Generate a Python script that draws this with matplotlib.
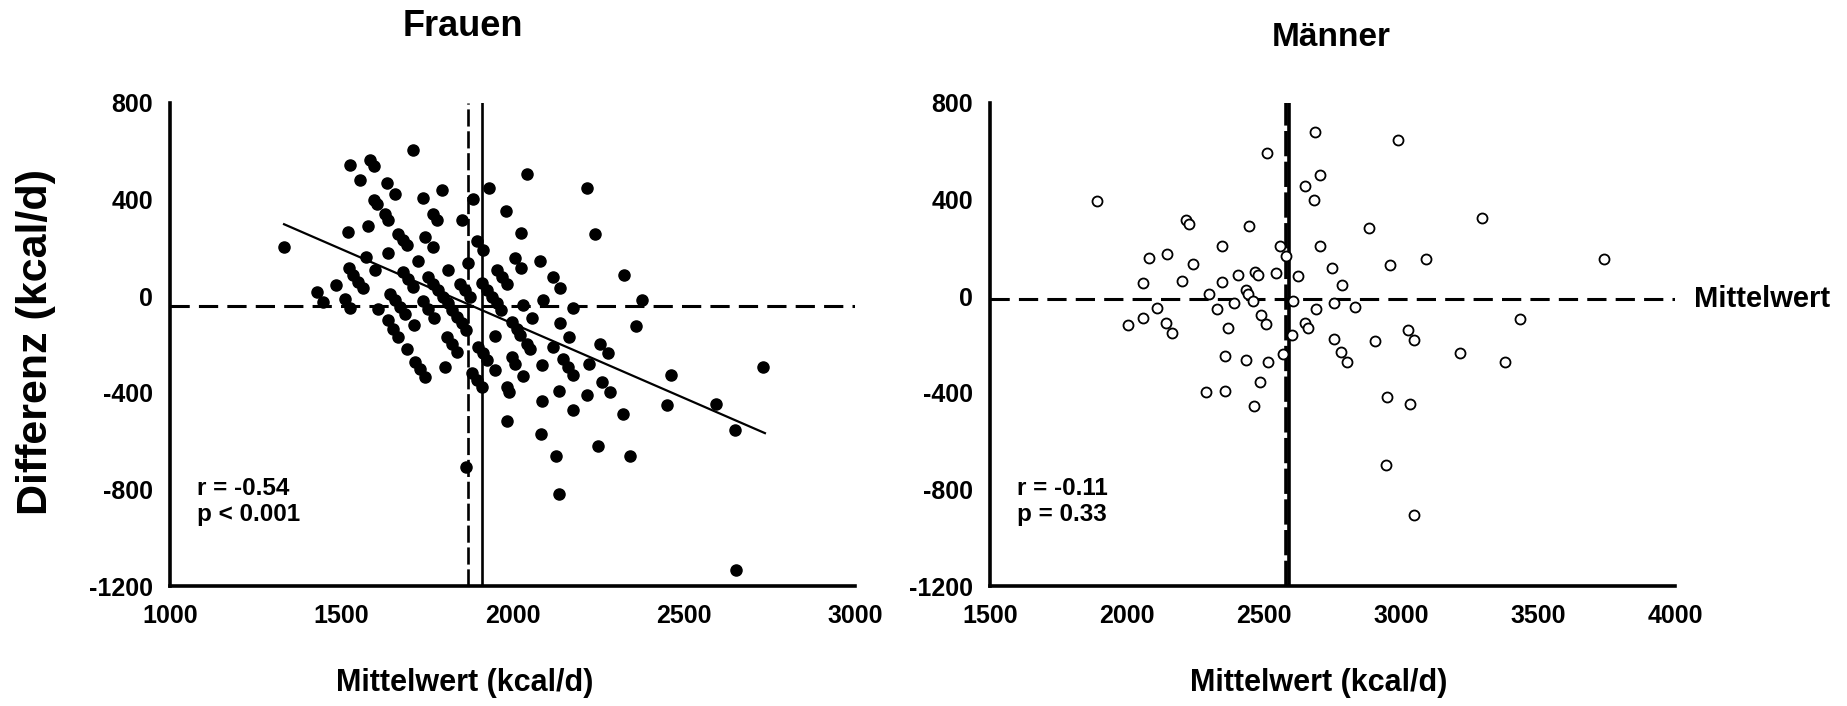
import matplotlib
matplotlib.use("Agg")
import matplotlib.pyplot as plt

plt.rcParams['font.family'] = ['Liberation Sans', 'DejaVu Sans']
plt.rcParams['font.weight'] = 'bold'

# ---------------- data ----------------
frauen_title = "Frauen"
maenner_title = "Männer"
x_label = "Mittelwert (kcal/d)"
y_label = "Differenz (kcal/d)"
mean_label = "Mittelwert"

frauen_x = [1710, 1526, 1584, 1596, 1555, 1635, 1657, 1738, 1793, 1884, 1932, 2043, 2217, 1597, 1603,
            1628, 1637, 1769, 1779, 1854, 1980, 1520, 1579, 1667, 1681, 1691, 1745, 1769, 1895, 1915,
            2024, 2242, 1333, 1572, 1636, 1723, 1871, 2007, 2024, 2080, 1599, 1523, 1535, 1550, 1564,
            1681, 1696, 1710, 1754, 1769, 1783, 1798, 1811, 1813, 1847, 1861, 1876, 1954, 1968, 1983,
            1910, 1925, 1939, 1954, 1965, 2119, 2139, 1485, 1428, 1448, 1511, 1527, 1608, 2030, 2090,
            2178, 2056, 1642, 1657, 1672, 1686, 1738, 1754, 1771, 1713, 1822, 1837, 1852, 1864, 1637,
            1652, 1667, 1691, 1808, 1822, 1949, 1998, 2012, 2022, 2041, 2051, 2139, 2166, 2119, 2255,
            2280, 1900, 1915, 1998,
            1715, 1730, 1745, 1803, 1837, 1881, 1895, 1910, 1925, 1864, 1949, 1983, 1991, 2007, 2032,
            1983, 2085, 2085, 2082, 2127, 2137, 2137, 2146, 2163, 2178, 2176, 2217, 2224, 2251, 2260,
            2285,
            2326, 2379, 2360, 2732, 2462, 2450, 2594, 2650, 2324, 2343, 2652]
frauen_d = [605, 542, 563, 538, 480, 467, 422, 407, 439, 402, 446, 508, 450, 398, 381,
            340, 315, 342, 317, 315, 352, 266, 290, 259, 232, 211, 246, 202, 229, 193,
            262, 259, 204, 163, 177, 145, 138, 159, 115, 146, 108, 115, 87, 59, 32,
            101, 73, 39, 80, 52, 25, -3, -30, 108, 52, 25, -3, 108, 80, 52,
            55, 25, -3, -30, -58, 80, 36, 46, 18, -23, -10, -47, -54, -37, -14,
            -47, -90, 11, -17, -44, -75, -19, -51, -92, -120, -58, -86, -113, -138, -99,
            -134, -168, -217, -168, -196, -164, -106, -134, -161, -196, -217, -109, -168, -210, -196,
            -237, -210, -237, -251,
            -272, -300, -334, -295, -231, -320, -348, -375, -265, -709, -306, -375, -396, -279, -331,
            -516, -286, -433, -571, -663, -821, -393, -258, -293, -327, -472, -410, -279, -621, -355,
            -396,
            87, -17, -124, -293, -327, -449, -447, -555, -486, -663, -1135]

maenner_x = [1891, 2510, 2685, 2988, 2703, 2650, 2681, 2217, 2228, 2446, 2883, 2345, 2560, 2706, 2580,
             2081, 2146, 2240, 3092, 2960, 2749, 2406, 2468, 2478, 2544, 2623, 2059, 2200, 2347, 2785,
             2300, 2434, 2440, 2459, 2391, 2605, 2111, 2330, 2691, 2754, 2831, 2059, 2004, 2143, 2164,
             2370, 2489, 2507, 2650, 2660, 2601, 2754, 2904, 3026, 3047, 2782, 2803, 2357, 2436, 2513,
             2568, 2485, 2288, 2357, 2462, 2949, 3034, 2947, 3047, 3296, 3740, 3435, 3217, 3381]
maenner_d = [395, 595, 678, 647, 501, 457, 400, 317, 298, 291, 283, 208, 208, 206, 167,
             159, 174, 133, 153, 130, 116, 87, 101, 86, 98, 83, 55, 63, 58, 48,
             11, 25, 8, -21, -30, -21, -47, -54, -51, -30, -44, -90, -120, -110, -152,
             -130, -79, -116, -113, -130, -161, -179, -186, -141, -182, -233, -272, -248, -266, -273,
             -240, -357, -396, -392, -455, -418, -446, -701, -904, 324, 153, -95, -235, -272]

# reference lines
frauen_mean_diff = -40
frauen_vline_dashed = 1870
frauen_vline_solid = 1910
frauen_reg_x = [1333, 2737]
frauen_reg_y = [298, -567]
maenner_mean_diff = -10
maenner_vline_dashed = 2581
maenner_vline_solid = 2590

frauen_stats = "r = -0.54\np < 0.001"
maenner_stats = "r = -0.11\np = 0.33"

frauen_xticks = [1000, 1500, 2000, 2500, 3000]
maenner_xticks = [1500, 2000, 2500, 3000, 3500, 4000]
yticks = [-1200, -800, -400, 0, 400, 800]

# ---------------- figure ----------------
W, H = 1847, 706
fig = plt.figure(figsize=(W / 100, H / 100), dpi=100)
fig.patch.set_facecolor('white')

axL = fig.add_axes([170 / W, 120 / H, 685 / W, 483 / H])
axR = fig.add_axes([990 / W, 120 / H, 685 / W, 483 / H])

def style(ax, xticks, xlim):
    ax.set_xlim(*xlim)
    ax.set_ylim(-1200, 800)
    ax.set_xticks(xticks)
    ax.set_yticks(yticks)
    ax.set_xticklabels([str(t) for t in xticks], fontsize=18, fontweight='bold')
    ax.set_yticklabels([str(t) for t in yticks], fontsize=18, fontweight='bold')
    for s in ['top', 'right']:
        ax.spines[s].set_visible(False)
    for s in ['left', 'bottom']:
        ax.spines[s].set_linewidth(2.6)
        ax.spines[s].set_color('black')
    ax.tick_params(axis='both', length=0, width=0)
    ax.tick_params(axis='x', pad=13)
    ax.tick_params(axis='y', pad=12)
    ax.set_facecolor('white')

style(axL, frauen_xticks, (1000, 3000))
style(axR, maenner_xticks, (1500, 4000))

# left panel
axL.axhline(frauen_mean_diff, color='black', lw=2.2, dashes=(6.3, 3.0))
axL.axvline(frauen_vline_dashed, color='black', lw=1.9, dashes=(6.5, 1.8))
axL.axvline(frauen_vline_solid, color='black', lw=1.9)
axL.plot(frauen_reg_x, frauen_reg_y, color='black', lw=1.6)
axL.plot(frauen_x, frauen_d, 'o', color='black', ms=8, mec='black', clip_on=False)
axL.text(0.04, 0.175, frauen_stats, transform=axL.transAxes, fontsize=17.5,
         fontweight='bold', va='center', ha='left', linespacing=1.15)

# right panel
axR.axhline(maenner_mean_diff, color='black', lw=2.2, dashes=(6.3, 3.0))
axR.axvline(maenner_vline_dashed, color='black', lw=2.6, dashes=(7.0, 1.5))
axR.axvline(maenner_vline_solid, color='black', lw=2.6)
axR.plot(maenner_x, maenner_d, 'o', mfc='white', mec='black', mew=1.3, ms=7.2, clip_on=False)
axR.text(0.04, 0.175, maenner_stats, transform=axR.transAxes, fontsize=17.5,
         fontweight='bold', va='center', ha='left', linespacing=1.15)
axR.annotate(mean_label, xy=(1.0, maenner_mean_diff), xycoords=('axes fraction', 'data'),
             xytext=(14, 0), textcoords='offset points', fontsize=21, fontweight='bold',
             va='center', ha='left', annotation_clip=False)

# titles and labels
fig.text(463 / W, 1 - 26 / H, frauen_title, fontsize=26, fontweight='bold', ha='center', va='center')
fig.text(1331 / W, 1 - 37 / H, maenner_title, fontsize=24, fontweight='bold', ha='center', va='center')
fig.text(465 / W, 1 - 683 / H, x_label, fontsize=22, fontweight='bold', ha='center', va='center')
fig.text(1319 / W, 1 - 683 / H, x_label, fontsize=22, fontweight='bold', ha='center', va='center')
fig.text(36 / W, 1 - 342 / H, y_label, fontsize=31, fontweight='bold', ha='center', va='center',
         rotation=90)

fig.savefig('out.png', dpi=100, facecolor='white')
